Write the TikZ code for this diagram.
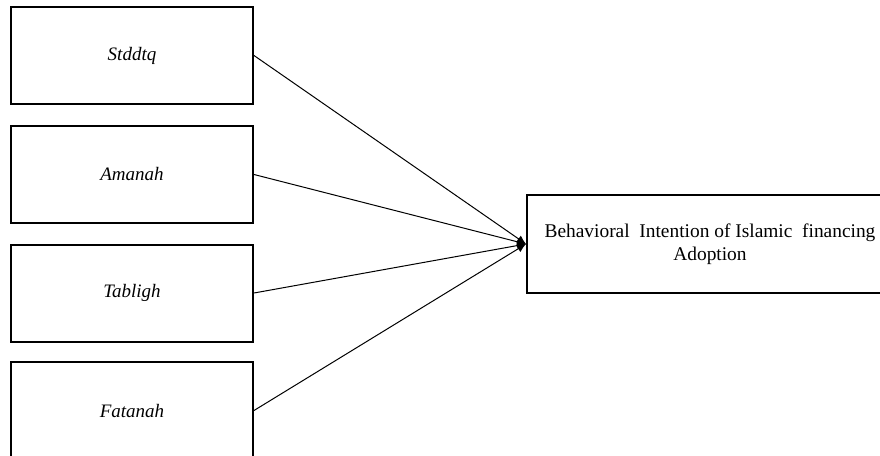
\documentclass[tikz,border=0pt]{standalone}
\usepackage{fontspec}
\setmainfont{Liberation Serif}
\usetikzlibrary{arrows.meta}

\begin{document}
\begin{tikzpicture}[x=0.5pt,y=-0.5pt,
    varbox/.style={rectangle, draw=black, line width=1pt, minimum width=121pt, minimum height=48.5pt, inner sep=0pt, font=\fontsize{9.5}{11.5}\selectfont\itshape},
    outbox/.style={rectangle, draw=black, line width=1pt, minimum width=183pt, minimum height=49pt, inner sep=0pt, align=center, font=\fontsize{9.7}{11.5}\selectfont}]
            \useasboundingbox (0,0) rectangle (880,456);
            \node[varbox] (S) at (132,55.5) {Stddtq};
            \node[varbox] (A) at (132,174.5) {Amanah};
            \node[varbox] (T) at (132,293) {Tabligh};
            \node[varbox] (F) at (132,410.5) {Fatanah};
            \node[outbox] (BI) at (710,244) {Behavioral~ Intention of Islamic~ financing\\Adoption};

            \tikzset{linkarrow/.style={-{Latex[length=4.5pt,width=4pt]}, line width=0.5pt}}

            \draw[linkarrow] (S.east) -- (BI.west);
            \draw[linkarrow] (A.east) -- (BI.west);
            \draw[linkarrow] (T.east) -- (BI.west);
            \draw[linkarrow] (F.east) -- (BI.west);

        \end{tikzpicture}
\end{document}
